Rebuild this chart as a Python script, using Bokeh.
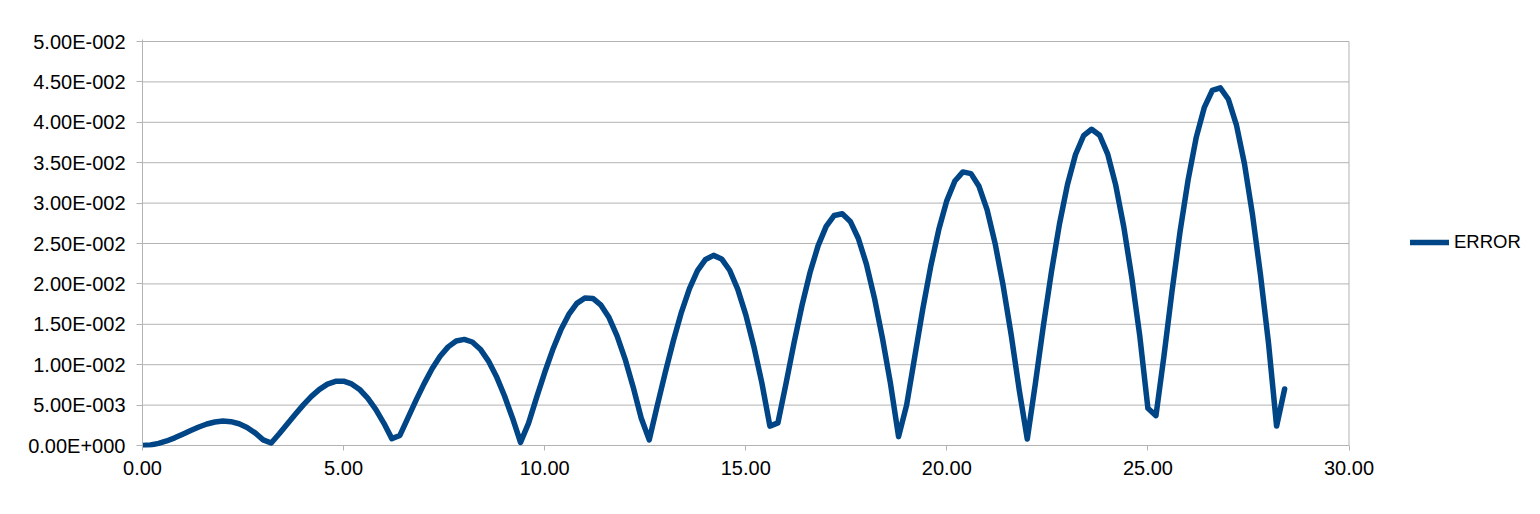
from bokeh.plotting import figure
from bokeh.models import Range1d, FixedTicker, NumeralTickFormatter, CustomJSTickFormatter, Legend, LegendItem
from bokeh.embed import file_html
from bokeh.resources import INLINE

# ---- data ----
x_values = [
    0.0, 0.2, 0.4, 0.6, 0.8, 1.0, 1.2, 1.4, 1.6, 1.8,
    2.0, 2.2, 2.4, 2.6, 2.8, 3.0, 3.2, 3.4, 3.6, 3.8,
    4.0, 4.2, 4.4, 4.6, 4.8, 5.0, 5.2, 5.4, 5.6, 5.8,
    6.0, 6.2, 6.4, 6.6, 6.8, 7.0, 7.2, 7.4, 7.6, 7.8,
    8.0, 8.2, 8.4, 8.6, 8.8, 9.0, 9.2, 9.4, 9.6, 9.8,
    10.0, 10.2, 10.4, 10.6, 10.8, 11.0, 11.2, 11.4, 11.6, 11.8,
    12.0, 12.2, 12.4, 12.6, 12.8, 13.0, 13.2, 13.4, 13.6, 13.8,
    14.0, 14.2, 14.4, 14.6, 14.8, 15.0, 15.2, 15.4, 15.6, 15.8,
    16.0, 16.2, 16.4, 16.6, 16.8, 17.0, 17.2, 17.4, 17.6, 17.8,
    18.0, 18.2, 18.4, 18.6, 18.8, 19.0, 19.2, 19.4, 19.6, 19.8,
    20.0, 20.2, 20.4, 20.6, 20.8, 21.0, 21.2, 21.4, 21.6, 21.8,
    22.0, 22.2, 22.4, 22.6, 22.8, 23.0, 23.2, 23.4, 23.6, 23.8,
    24.0, 24.2, 24.4, 24.6, 24.8, 25.0, 25.2, 25.4, 25.6, 25.8,
    26.0, 26.2, 26.4, 26.6, 26.8, 27.0, 27.2, 27.4, 27.6, 27.8,
    28.0, 28.2, 28.4,
]
error_values = [
    0.0, 0.00007, 0.00026, 0.00056, 0.00095, 0.00140, 0.00186, 0.00229, 0.00266, 0.00291,
    0.00302, 0.00295, 0.00269, 0.00223, 0.00156, 0.00070, 0.00031, 0.00145, 0.00265, 0.00386,
    0.00503, 0.00608, 0.00695, 0.00759, 0.00794, 0.00796, 0.00762, 0.00693, 0.00587, 0.00448,
    0.00278, 0.00085, 0.00124, 0.00342, 0.00558, 0.00763, 0.00949, 0.01104, 0.01221, 0.01294,
    0.01313, 0.01281, 0.01192, 0.01048, 0.00855, 0.00616, 0.00341, 0.00039, 0.00277, 0.00595,
    0.00903, 0.01184, 0.01428, 0.01622, 0.01759, 0.01826, 0.01820, 0.01737, 0.01583, 0.01357,
    0.01070, 0.00725, 0.00340, 0.00069, 0.00493, 0.00906, 0.01297, 0.01648, 0.01942, 0.02165,
    0.02303, 0.02353, 0.02309, 0.02169, 0.01936, 0.01619, 0.01229, 0.00777, 0.00240, 0.00280,
    0.00765, 0.01269, 0.01737, 0.02144, 0.02474, 0.02712, 0.02847, 0.02868, 0.02773, 0.02562,
    0.02244, 0.01825, 0.01326, 0.00763, 0.00110, 0.00500, 0.01093, 0.01684, 0.02219, 0.02672,
    0.03031, 0.03273, 0.03386, 0.03365, 0.03208, 0.02918, 0.02502, 0.01979, 0.01370, 0.00688,
    0.00080, 0.00763, 0.01480, 0.02146, 0.02740, 0.03230, 0.03601, 0.03834, 0.03914, 0.03840,
    0.03606, 0.03222, 0.02706, 0.02075, 0.01346, 0.00460, 0.00370, 0.01113, 0.01912, 0.02651,
    0.03289, 0.03810, 0.04181, 0.04394, 0.04427, 0.04285, 0.03969, 0.03489, 0.02859, 0.02109,
    0.01260, 0.00240, 0.00700,
]
series_name = "ERROR"
x_ticks = [0, 5, 10, 15, 20, 25, 30]
y_ticks = [0.0, 0.005, 0.01, 0.015, 0.02, 0.025, 0.03, 0.035, 0.04, 0.045, 0.05]
y_tick_labels = ["0.00E+000", "5.00E-003", "1.00E-002", "1.50E-002", "2.00E-002", "2.50E-002",
                 "3.00E-002", "3.50E-002", "4.00E-002", "4.50E-002", "5.00E-002"]

# ---- styling ----
FONT = "Liberation Sans"
GRID = "#b3b3b3"
LINE = "#004586"

X_MIN, X_MAX = x_ticks[0], x_ticks[-1]
Y_MIN, Y_MAX = y_ticks[0], y_ticks[-1]

# The plotting frame is widened to the right edge of the canvas so the legend
# (drawn inside the frame) is not clipped; the visible chart area stays 0..30.
FRAME_LEFT = 142
CHART_W = 1206.5          # pixels from x=0 to x=30
FRAME_W = 1540 - FRAME_LEFT
x_end = X_MAX * FRAME_W / CHART_W
PAD_PX = 2.0
CHART_H = 404.0
y_pad = (Y_MAX - Y_MIN) * PAD_PX / CHART_H

p = figure(width=1540, height=514, output_backend="svg", toolbar_location=None,
           x_range=Range1d(X_MIN, x_end), y_range=Range1d(Y_MIN - y_pad, Y_MAX + y_pad),
           min_border_left=FRAME_LEFT, min_border_right=0, min_border_top=39, min_border_bottom=67,
           background_fill_color="white", border_fill_color="white")
p.outline_line_color = None

# horizontal grid lines and the right-hand border of the chart area
p.segment(x0=X_MIN, x1=X_MAX, y0=y_ticks, y1=y_ticks, line_color=GRID, line_width=1)
p.segment(x0=X_MAX, x1=X_MAX, y0=Y_MIN, y1=Y_MAX, line_color=GRID, line_width=1)

r = p.line(x_values, error_values, line_color=LINE, line_width=5.5, line_join="round", line_cap="round")

p.xaxis.ticker = FixedTicker(ticks=x_ticks)
p.xaxis.formatter = NumeralTickFormatter(format="0.00")
p.yaxis.ticker = FixedTicker(ticks=y_ticks)
p.yaxis.formatter = CustomJSTickFormatter(args=dict(tvals=y_ticks, tlabels=y_tick_labels), code="""
    let best = -1, bd = 1e9;
    for (let i = 0; i < tvals.length; i++) {
        const d = Math.abs(tvals[i] - tick);
        if (d < bd) { bd = d; best = i; }
    }
    return (best >= 0 && bd < 1e-9) ? tlabels[best] : "";
""")

for ax in (p.xaxis[0], p.yaxis[0]):
    ax.major_tick_line_color = GRID
    ax.minor_tick_line_color = None
    ax.major_label_text_font = FONT
    ax.major_label_text_font_size = "20px"
    ax.major_label_text_color = "black"
p.xaxis.axis_line_color = None
p.xaxis.major_tick_in = 2
p.xaxis.major_tick_out = 3
p.xaxis.major_label_standoff = 10
p.yaxis.axis_line_color = GRID
p.yaxis.major_tick_in = 0
p.yaxis.major_tick_out = 6
p.yaxis.major_label_standoff = 11

p.xgrid.grid_line_color = None
p.ygrid.grid_line_color = None

legend = Legend(items=[LegendItem(label=series_name, renderers=[r])],
                location=(1268, 194), padding=0, margin=0, spacing=0,
                glyph_width=39, glyph_height=20, label_standoff=5, label_height=20,
                label_text_font=FONT, label_text_font_size="18.5px", label_text_color="black",
                border_line_color=None, background_fill_alpha=0)
p.add_layout(legend)

open("out.html", "w").write(file_html(p, INLINE))
